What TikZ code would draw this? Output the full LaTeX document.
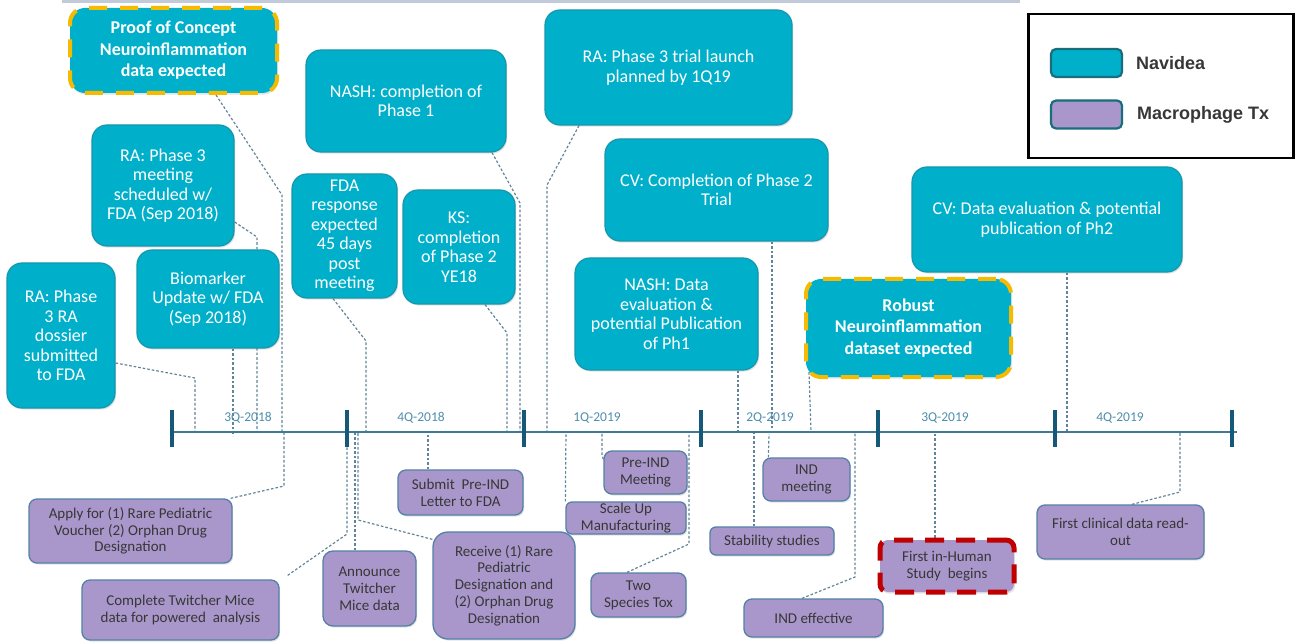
\documentclass[tikz,border=0pt]{standalone}
\usepackage{fontspec}
\setmainfont{Carlito}
\newfontfamily\legfont{Liberation Sans}
\usetikzlibrary{shadows,backgrounds}
\definecolor{teal1}{RGB}{0,176,202}
\definecolor{tealb}{RGB}{22,150,172}
\definecolor{purp}{RGB}{169,151,203}
\definecolor{purpb}{RGB}{84,128,166}
\definecolor{orng}{RGB}{246,186,0}
\definecolor{redd}{RGB}{192,0,0}
\definecolor{axisc}{RGB}{62,122,148}
\definecolor{tickc}{RGB}{22,88,120}
\definecolor{qlab}{RGB}{78,142,172}
\definecolor{connc}{RGB}{98,132,152}
\definecolor{txtd}{RGB}{55,55,55}
\definecolor{topbarc}{RGB}{192,202,216}
\definecolor{swb}{RGB}{24,110,125}
\begin{document}
\begin{tikzpicture}[x=1pt,y=-1pt,
  sz/.style 2 args={minimum width=#1pt, minimum height=#2pt},
  shad/.style={drop shadow={shadow xshift=1.2pt, shadow yshift=-1.6pt, opacity=.22}},
  nav/.style={shad, rounded corners=15pt, fill=teal1, draw=tealb, line width=1.2pt,
    text=white, align=center, inner sep=0pt, font=\fontsize{18}{19.5}\selectfont},
  navb/.style={nav, draw=orng, line width=4pt, dash pattern=on 18pt off 13pt,
    font=\fontsize{18}{21.5}\selectfont\bfseries},
  mac/.style={shad, rounded corners=8pt, fill=purp, draw=purpb, line width=1.3pt,
    text=txtd, align=center, inner sep=0pt, font=\fontsize{15}{16.8}\selectfont},
  macr/.style={mac, draw=redd, line width=5pt, dash pattern=on 19pt off 12pt},
  conn/.style={draw=connc, line width=1.2pt, dash pattern=on 2.6pt off 2pt},
  qlabel/.style={text=qlab, inner sep=0pt, font=\fontsize{13.5}{15}\selectfont},
  axisline/.style={draw=axisc, line width=1.6pt},
  tickmark/.style={draw=tickc, line width=4pt},
  swatch/.style={rounded corners=5pt, draw=swb, line width=2.2pt, minimum width=71pt, minimum height=28pt, inner sep=0pt},
  legtext/.style={anchor=west, inner sep=0pt, text=txtd, font={\legfont\fontsize{18}{20}\selectfont\bfseries}}
]
\useasboundingbox (0,0) rectangle (1296,644);
\draw[topbarc, line width=3pt] (62,1.5) -- (1020,1.5);

% ---------- timeline ----------
\coordinate (ax0) at (170,432);
\coordinate (ax1) at (1237,432);
\draw[axisline] (ax0) -- (ax1);
\foreach \x in {172,347,524,701,878,1055,1232} \draw[tickmark] (\x,410) -- (\x,447);

% ---------- Navidea boxes ----------
\node[navb, sz={207}{85}] (poc) at (173.5,50.5) {Proof of Concept\\Neuroinflammation\\data expected};
\node[nav, sz={142}{121}] (ra3m) at (163,185.5) {RA: Phase 3\\meeting\\scheduled w/\\FDA (Sep 2018)};
\node[nav, sz={142}{98}] (bio) at (208,299) {Biomarker\\Update w/ FDA\\(Sep 2018)};
\node[nav, sz={108}{145}] (dossier) at (61,335.5) {RA: Phase\\3 RA\\dossier\\submitted\\to FDA};
\node[nav, sz={200}{102}] (nash1) at (406,101) {NASH: completion of\\Phase 1};
\node[nav, sz={105}{124}] (fda) at (344.5,236) {FDA\\response\\expected\\45 days\\post\\meeting};
\node[nav, sz={112}{114}] (ks) at (459,247) {KS:\\completion\\of Phase 2\\YE18};
\node[nav, sz={247}{115}] (ra3l) at (668.5,67.5) {RA: Phase 3 trial launch\\planned by 1Q19};
\node[nav, sz={223}{102}] (cv2) at (716.5,190) {CV: Completion of Phase 2\\Trial};
\node[nav, sz={183}{112}] (nashd) at (666.5,314) {NASH: Data\\evaluation \&\\potential Publication\\of Ph1};
\node[nav, sz={270}{105}] (cvd) at (1047,219.5) {CV: Data evaluation \& potential\\publication of Ph2};
\node[navb, sz={205}{98}] (robust) at (908.5,328) {Robust\\Neuroinflammation\\dataset expected};

% ---------- Macrophage Tx boxes ----------
\node[mac, sz={203}{64}] (apply) at (130.5,531) {Apply for (1) Rare Pediatric\\Voucher (2) Orphan Drug\\Designation};
\node[mac, sz={197}{60}] (twm) at (180.5,610) {Complete Twitcher Mice\\data for powered\ \ analysis};
\node[mac, rounded corners=10pt, sz={93}{75}] (ann) at (369.5,588.5) {Announce\\Twitcher\\Mice data};
\node[mac, sz={125}{45}] (subm) at (460.5,492.5) {Submit\ \ Pre-IND\\Letter to FDA};
\node[mac, rounded corners=15pt, sz={142}{107}] (recv) at (504,585.5) {Receive (1) Rare\\Pediatric\\Designation and\\(2) Orphan Drug\\Designation};
\node[mac, sz={83}{43}] (preind) at (645.5,472.5) {Pre-IND\\Meeting};
\node[mac, rounded corners=6pt, sz={120}{32}] (scale) at (626,518) {Scale Up\\Manufacturing};
\node[mac, sz={95}{44}] (tox) at (638.5,595) {Two\\Species Tox};
\node[mac, rounded corners=6pt, sz={124}{28}] (stab) at (772,541) {Stability studies};
\node[mac, sz={87}{43}] (indm) at (806.5,479.5) {IND\\meeting};
\node[mac, sz={139}{38}] (inde) at (813.5,618) {IND effective};
\node[macr, sz={134}{52}] (fih) at (947,566) {First in-Human\\Study\ \ begins};
\node[mac, sz={167}{54}] (fcd) at (1120.5,532) {First clinical data read-\\out};

% ---------- connectors ----------
\begin{pgfonlayer}{background}
\draw[conn] ([xshift=42.5pt]poc.south) -- (282,195) -- (282,432);
\draw[conn] ([yshift=-36.5pt]ra3m.east) -- (257,237) -- (257,432);
\draw[conn] ([xshift=25pt]bio.south) -- (233,436);
\draw[conn] ([yshift=-27.5pt]dossier.east) -- (195,378) -- (195,432);
\draw[conn] ([xshift=-11.5pt]fda.south) -- (366,341) -- (366,432);
\draw[conn] ([xshift=86pt]nash1.south) -- (520,203) -- (520,432);
\draw[conn] ([xshift=26pt]ks.south) -- (507,333) -- (507,432);
\draw[conn] ([xshift=-89.5pt]ra3l.south) -- (547,185) -- (547,432);
\draw[conn] ([xshift=55.5pt]cv2.south) -- (772,430);
\draw[conn] ([xshift=71.5pt]nashd.south) -- (738,432);
\draw[conn] ([xshift=5pt,yshift=7pt]robust.south west) -- (811,432);
\draw[conn] ([xshift=20pt]cvd.south) -- (1067,432);
\draw[conn] ([xshift=-2pt]apply.north east) -- (284,486) -- (284,432);
\draw[conn] ([xshift=8pt,yshift=4pt]twm.north east) -- (347,534) -- (347,432);
\draw[conn] ([xshift=-14.5pt]ann.north) -- (355,432);
\draw[conn] ([yshift=-8pt]recv.north west) -- (358,520) -- (358,432);
\draw[conn] ([xshift=-32.5pt]subm.north) -- (428,432);
\draw[conn] (scale.north west) -- (566,432);
\draw[conn] ([yshift=-9pt]preind.north west) -- (602,455) -- (602,432);
\draw[conn] ([xshift=-11.5pt]tox.north) -- (689,544) -- (689,432);
\draw[conn] ([xshift=-18pt]stab.north) -- (754,432);
\draw[conn] ([xshift=6pt]indm.north west) -- (769,434);
\draw[conn] ([xshift=-11.5pt]inde.north) -- (855,577) -- (855,432);
\draw[conn] ([xshift=-12pt]fih.north) -- (935,432);
\draw[conn] ([xshift=11.5pt]fcd.north) -- (1180,492) -- (1180,432);
\end{pgfonlayer}

% ---------- quarter labels ----------
\node[qlabel] (q1) at (248,418) {3Q-2018};
\node[qlabel] (q2) at (421,418) {4Q-2018};
\node[qlabel] (q3) at (597,418) {1Q-2019};
\node[qlabel] (q4) at (770,418) {2Q-2019};
\node[qlabel] (q5) at (945,418) {3Q-2019};
\node[qlabel] (q6) at (1120,418) {4Q-2019};

% ---------- legend ----------
\node[draw=black, line width=2.5pt, fill=white, minimum width=265pt, minimum height=144pt, inner sep=0pt] (leg) at (1161,86) {};
\node[swatch, fill=teal1] (sw1) at (1086.5,63) {};
\node[swatch, fill=purp] (sw2) at (1086.5,114.5) {};
\node[legtext] (lt1) at (1136,63) {Navidea};
\node[legtext] (lt2) at (1137,115) {Macrophage Tx};
\end{tikzpicture}
\end{document}
